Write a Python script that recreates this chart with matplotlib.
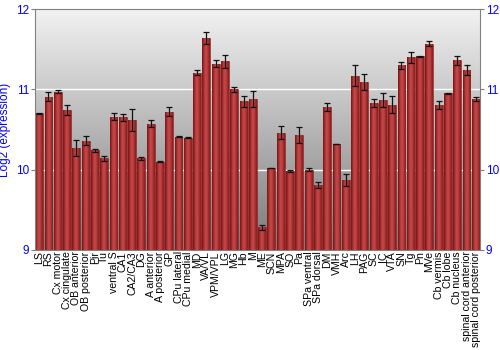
import numpy as np
import matplotlib
matplotlib.use("Agg")
import matplotlib.pyplot as plt
from matplotlib.colors import LinearSegmentedColormap

regions = ["LS", "RS", "Cx motor", "Cx cingulate", "OB anterior", "OB posterior",
           "Pir", "Tu", "ventral S", "CA1", "CA2/CA3", "DG", "A anterior",
           "A posterior", "GP", "CPu lateral", "CPu medial", "MD", "VA/VL",
           "VPM/VPL", "LG", "MG", "Hb", "M", "ME", "SCN", "MPA", "SO", "Pa",
           "SPa ventral", "SPa dorsal", "DM", "VMH", "Arc", "LH", "PAG", "SC",
           "IC", "VTA", "SN", "Tg", "Pn", "MVe", "Cb vermis", "Cb lobe",
           "Cb nucleus", "spinal cord anterior", "spinal cord posterior"]

expr = [10.70, 10.91, 10.97, 10.74, 10.27, 10.36, 10.24, 10.14, 10.66, 10.65,
        10.62, 10.14, 10.57, 10.10, 10.72, 10.41, 10.40, 11.21, 11.64, 11.32,
        11.35, 11.00, 10.85, 10.88, 9.28, 10.02, 10.46, 9.98, 10.43, 10.00,
        9.81, 10.78, 10.32, 9.87, 11.17, 11.09, 10.83, 10.87, 10.81, 11.30,
        11.40, 11.41, 11.57, 10.81, 10.95, 11.36, 11.24, 10.88]

err = [0.005, 0.06, 0.02, 0.065, 0.095, 0.055, 0.02, 0.03, 0.045, 0.045,
       0.135, 0.02, 0.045, 0.005, 0.055, 0.005, 0.005, 0.035, 0.07, 0.045,
       0.08, 0.03, 0.07, 0.095, 0.027, 0.005, 0.08, 0.01, 0.1, 0.02,
       0.04, 0.047, 0.005, 0.07, 0.13, 0.1, 0.045, 0.09, 0.11, 0.045,
       0.066, 0.01, 0.033, 0.05, 0.01, 0.06, 0.058, 0.027]

yticks = [9, 10, 11, 12]

plt.rcParams['font.family'] = ['Liberation Sans', 'DejaVu Sans']

fig = plt.figure(figsize=(5, 3.5), dpi=100)
ax = fig.add_axes([0.07, 0.286, 0.89, 0.688])

x = np.arange(len(regions))
ymin, ymax = 9, 12
xmin, xmax = -0.45, len(regions) - 0.55

# background gradient, light at top, dark at bottom
grad = np.linspace(0, 1, 256).reshape(-1, 1)
bg = LinearSegmentedColormap.from_list("bg", ["#7a7a7a", "#f2f2f2"])
ax.imshow(grad, cmap=bg, aspect="auto", origin="lower",
          extent=[xmin, xmax, ymin, ymax], zorder=0)

for yv in [10, 11]:
    ax.axhline(yv, color="white", lw=1, zorder=1)

bars = ax.bar(x, np.array(expr) - ymin, bottom=ymin, width=0.85,
              color="#a82828", edgecolor="#8a1c1c", linewidth=0.4, zorder=2)

# horizontal shading inside every bar
hgrad = np.array([[0.0, 0.5, 0.85, 1.0, 0.85, 0.55, 0.2]])
barcm = LinearSegmentedColormap.from_list("bar", ["#7e1616", "#c64848"])
for b in bars:
    bx, by = b.get_x(), b.get_y()
    im = ax.imshow(hgrad, cmap=barcm, aspect="auto", interpolation="bicubic",
                   extent=[bx, bx + b.get_width(), by, by + b.get_height()],
                   zorder=2.5)
    im.set_clip_path(b)

ax.errorbar(x, expr, yerr=err, fmt="none", ecolor="#111111", elinewidth=0.9,
            capsize=2, capthick=0.9, zorder=3)

ax.set_xlim(xmin, xmax)
ax.set_ylim(ymin, ymax)
ax.set_xticks(x)
ax.set_xticklabels(regions, rotation=90, fontsize=7.6)
ax.tick_params(axis="x", length=0, pad=1)
ax.set_yticks(yticks)
ax.tick_params(axis="y", colors="#808080", labelcolor="blue", labelsize=8.5,
               length=3, right=True, labelright=True, pad=1)
ax.set_ylabel("Log2 (expression)", color="blue", fontsize=8.5, labelpad=4)

for s in ax.spines.values():
    s.set_color("#808080")

fig.savefig("out.png", dpi=100)
